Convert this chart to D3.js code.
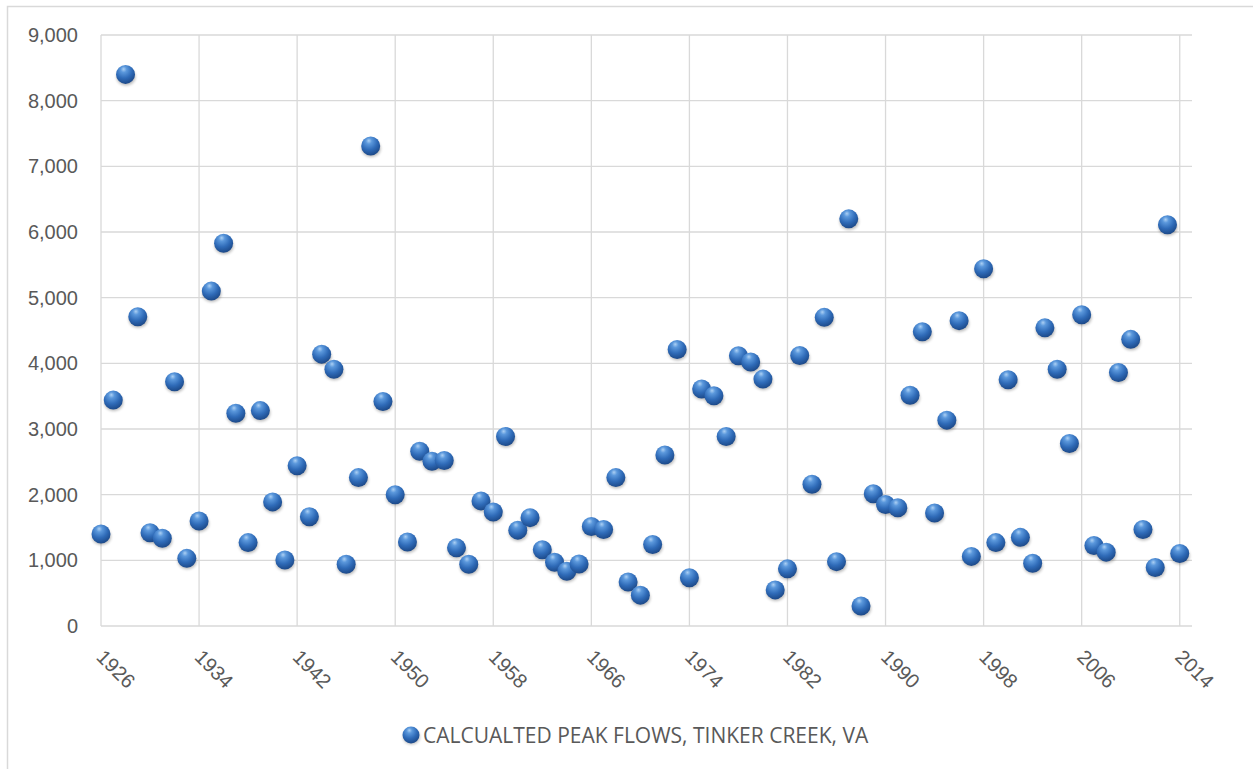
<!DOCTYPE html>
<html>
<head>
<meta charset="utf-8">
<script src="https://cdn.jsdelivr.net/npm/d3@7/dist/d3.min.js"></script>
<style>
  html, body { margin: 0; padding: 0; background: #ffffff; }
  svg { display: block; font-family: "Open Sans", "Noto Sans", sans-serif; }
</style>
</head>
<body>
<svg id="chart" width="1253" height="769"></svg>
<script>
// Annual peak flows, Tinker Creek, VA (one value per water year)
const years = d3.range(1926, 2015);
const peakFlows = [
  1400, 3440, 8400, 4710, 1420, 1335, 3720, 1030, 1600, 5100,
  5830, 3240, 1270, 3280, 1890, 1005, 2440, 1665, 4140, 3910,
  940, 2260, 7310, 3420, 2000, 1280, 2660, 2510, 2520, 1190,
  940, 1905, 1735, 2885, 1460, 1650, 1160, 970, 835, 945,
  1515, 1470, 2260, 670, 470, 1240, 2605, 4210, 735, 3610,
  3505, 2885, 4115, 4020, 3760, 550, 870, 4120, 2160, 4700,
  980, 6200, 305, 2015, 1850, 1800, 3515, 4480, 1720, 3135,
  4650, 1060, 5440, 1270, 3750, 1350, 955, 4540, 3910, 2780,
  4740, 1225, 1125, 3860, 4365, 1470, 890, 6110, 1105
];
const xTickValues = d3.range(1926, 2015, 8);
const yTickValues = d3.range(0, 9001, 1000);
const seriesName = "CALCUALTED PEAK FLOWS, TINKER CREEK, VA";

const points = years.map((yr, i) => ({ year: yr, flow: peakFlows[i] }));

const svg = d3.select("#chart");
const plot = { left: 101, right: 1192, top: 35, bottom: 626 };
const textColor = "#595959";
const gridColor = "#d9d9d9";

// Chart frame (extends past the right and bottom edges of the canvas)
svg.append("rect")
  .attr("x", 7.5).attr("y", 6.5)
  .attr("width", 1300).attr("height", 800)
  .attr("fill", "#ffffff")
  .attr("stroke", gridColor).attr("stroke-width", 1.5);

const x = d3.scaleLinear().domain([1926, 2015]).range([plot.left, plot.right]);
const y = d3.scaleLinear().domain([0, 9000]).range([plot.bottom, plot.top]);

// Sphere marker gradient and soft drop shadow
const defs = svg.append("defs");
const grad = defs.append("radialGradient")
  .attr("id", "sphere")
  .attr("cx", "42%").attr("cy", "30%").attr("r", "72%")
  .attr("fx", "40%").attr("fy", "22%");
[["0%", "#acd0f4"], ["22%", "#5b98dc"], ["60%", "#2f6bb8"], ["100%", "#1b4786"]]
  .forEach(([o, c]) => grad.append("stop").attr("offset", o).attr("stop-color", c));
const shadow = defs.append("filter").attr("id", "shadow")
  .attr("x", "-50%").attr("y", "-50%").attr("width", "200%").attr("height", "200%");
shadow.append("feGaussianBlur").attr("stdDeviation", 1.4);

// Horizontal gridlines
svg.append("g")
  .selectAll("line")
  .data(yTickValues)
  .join("line")
  .attr("x1", plot.left).attr("x2", plot.right)
  .attr("y1", d => y(d)).attr("y2", d => y(d))
  .attr("stroke", gridColor).attr("stroke-width", 1.3);

// Vertical gridlines at the year ticks
svg.append("g")
  .selectAll("line")
  .data(xTickValues)
  .join("line")
  .attr("x1", d => x(d)).attr("x2", d => x(d))
  .attr("y1", plot.top).attr("y2", plot.bottom)
  .attr("stroke", gridColor).attr("stroke-width", 1.3);

// Y axis labels
const yAxis = svg.append("g")
  .attr("transform", `translate(${plot.left},0)`)
  .call(d3.axisLeft(y).tickValues(yTickValues).tickFormat(d3.format(",")).tickSize(0).tickPadding(23));
yAxis.select(".domain").remove();
yAxis.selectAll("text")
  .attr("fill", textColor)
  .style("font-size", "20px");

// X axis labels, rotated 45 degrees
const xAxis = svg.append("g")
  .attr("transform", `translate(0,${plot.bottom})`)
  .call(d3.axisBottom(x).tickValues(xTickValues).tickFormat(d3.format("d")).tickSize(0));
xAxis.select(".domain").remove();
xAxis.selectAll("text")
  .attr("x", 0).attr("y", 0).attr("dy", "0.72em")
  .attr("transform", "translate(4,22) rotate(45)")
  .style("text-anchor", "start")
  .style("font-size", "20px")
  .attr("fill", textColor);

// Markers
const markers = svg.append("g");
markers.selectAll("ellipse.shadow")
  .data(points)
  .join("ellipse")
  .attr("class", "shadow")
  .attr("cx", d => x(d.year) + 0.5)
  .attr("cy", d => y(d.flow) + 2.5)
  .attr("rx", 9.5).attr("ry", 8.5)
  .attr("fill", "#000000").attr("opacity", 0.28)
  .attr("filter", "url(#shadow)");
markers.selectAll("circle")
  .data(points)
  .join("circle")
  .attr("cx", d => x(d.year))
  .attr("cy", d => y(d.flow))
  .attr("r", 9.5)
  .attr("fill", "url(#sphere)");

// Legend
const legend = svg.append("g").attr("transform", "translate(411,735)");
legend.append("ellipse")
  .attr("cx", 0.5).attr("cy", 2).attr("rx", 8.5).attr("ry", 7.5)
  .attr("fill", "#000").attr("opacity", 0.25).attr("filter", "url(#shadow)");
legend.append("circle").attr("r", 8.5).attr("fill", "url(#sphere)");
legend.append("text")
  .attr("x", 12).attr("dy", "0.36em")
  .attr("fill", textColor)
  .style("font-size", "21px")
  .text(seriesName);
</script>
</body>
</html>
